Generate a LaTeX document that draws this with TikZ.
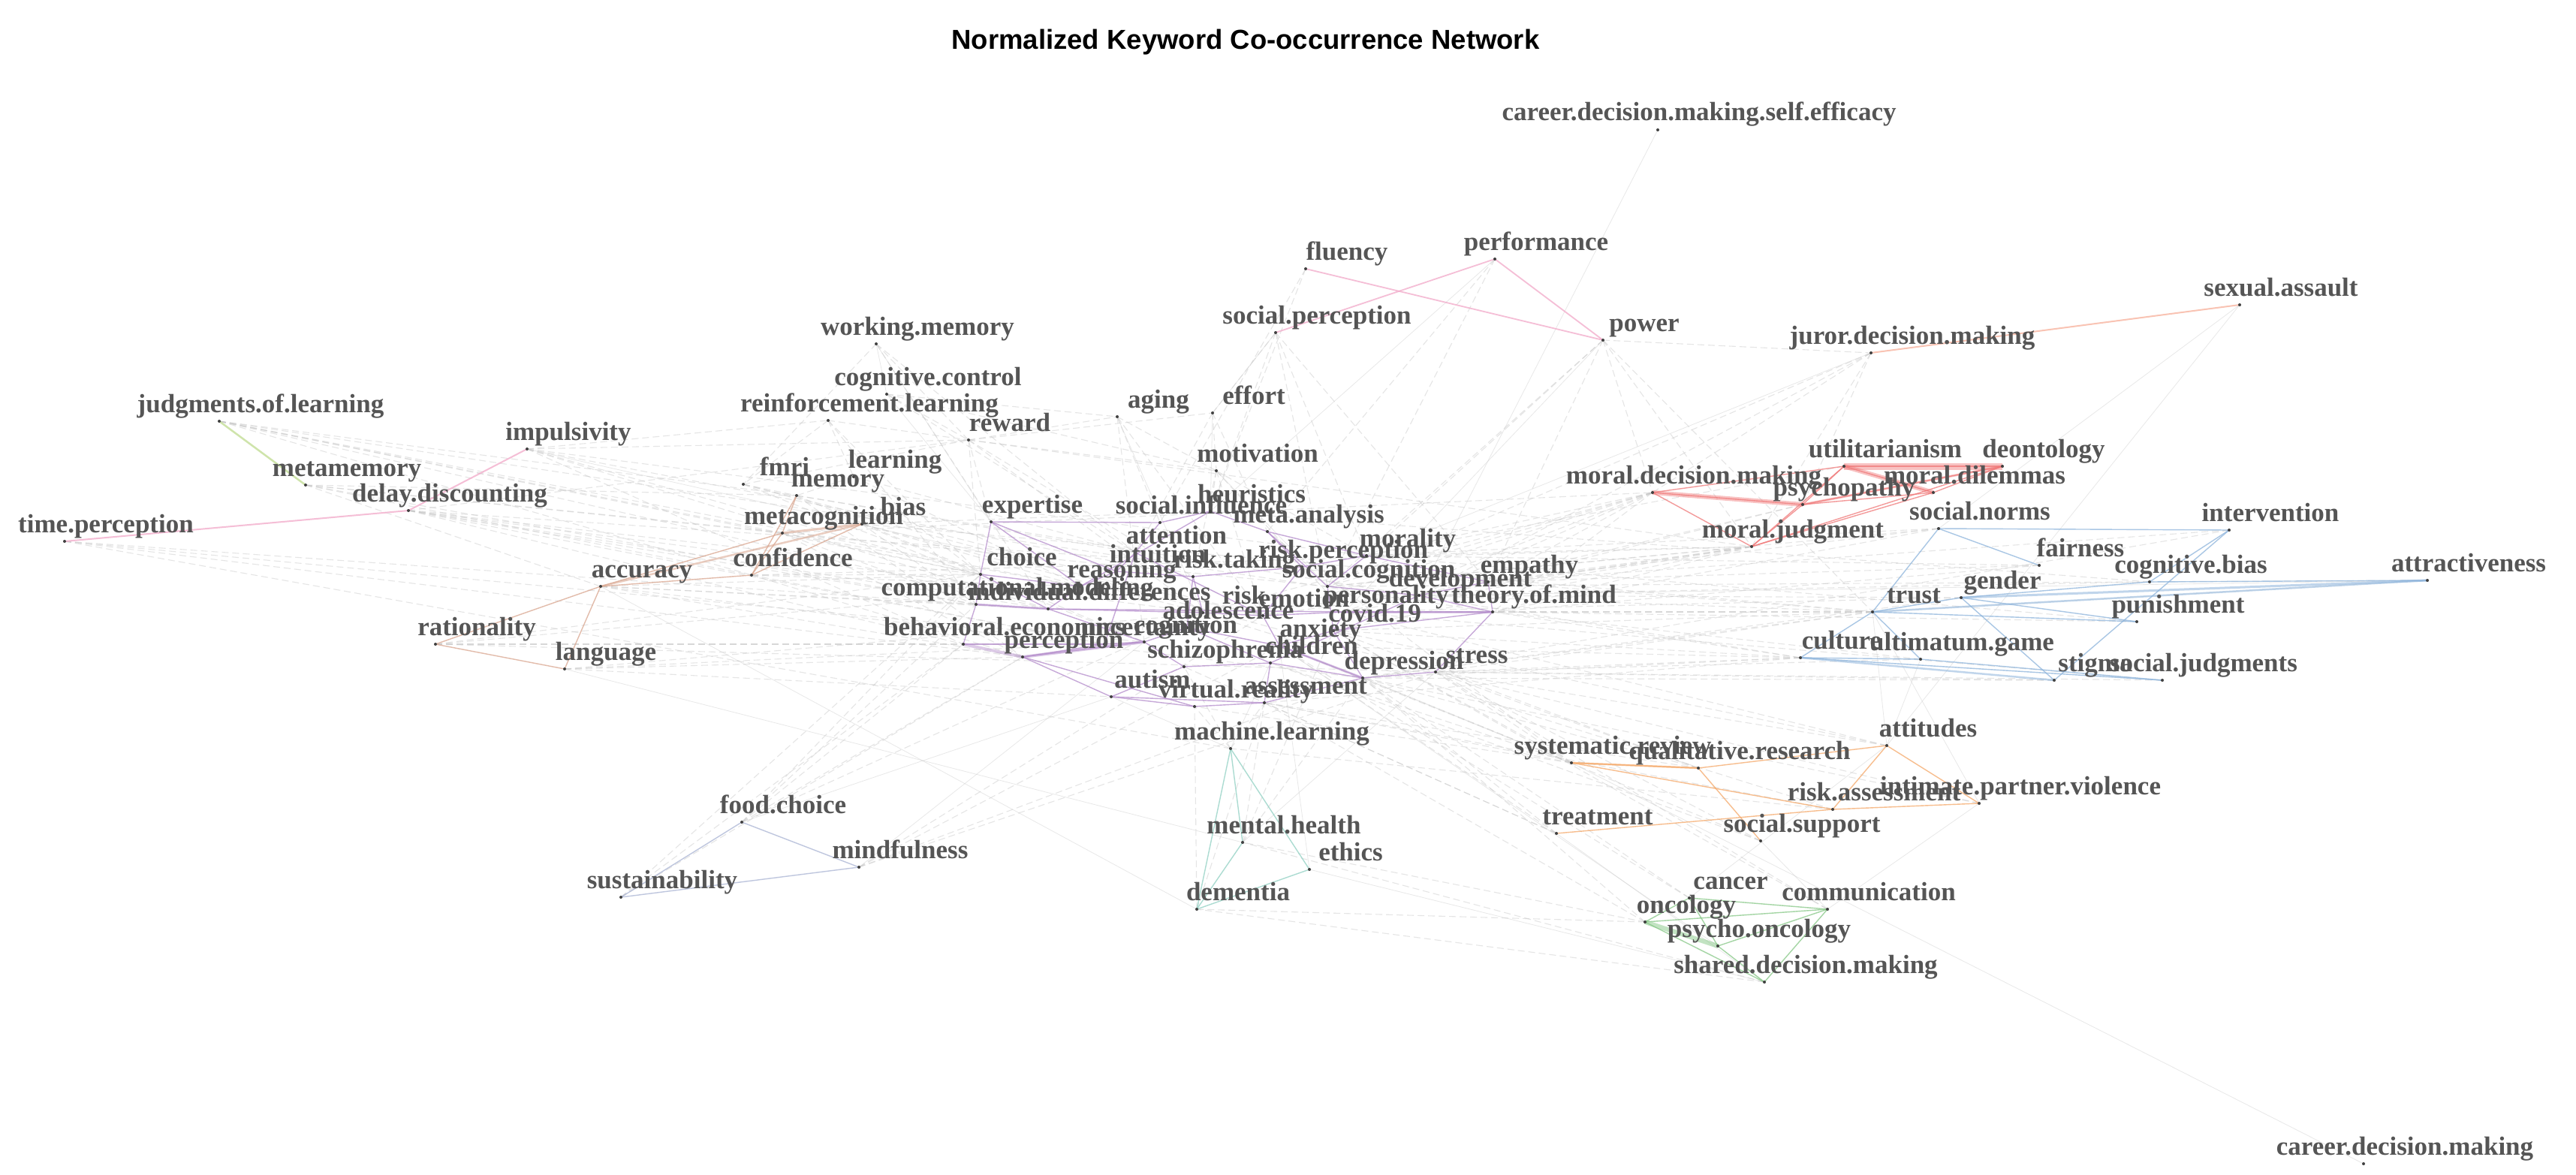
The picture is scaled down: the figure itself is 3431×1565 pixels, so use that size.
\documentclass[tikz,border=0pt]{standalone}
\usepackage{fontspec}
\setmainfont{Liberation Serif}
\newfontfamily\titlefont{Liberation Sans}
\definecolor{labgray}{HTML}{555555}
\definecolor{cpurple}{HTML}{B48CCB}
\definecolor{cred}{HTML}{F07878}
\definecolor{cblue}{HTML}{8DB4DC}
\definecolor{corange}{HTML}{F5A868}
\definecolor{cgreen}{HTML}{86C886}
\definecolor{ctan}{HTML}{D9A58E}
\definecolor{cpink}{HTML}{F2A9C9}
\definecolor{clgreen}{HTML}{BFDC8F}
\definecolor{cteal}{HTML}{8FD0C2}
\definecolor{cslate}{HTML}{A9B3D3}
\definecolor{csalmon}{HTML}{F7B09A}
\tikzset{
  gd/.style={draw=gray!45, opacity=0.45, line width=1.1pt, dash pattern=on 9pt off 5pt},
  gs/.style={draw=gray!40, opacity=0.45, line width=0.8pt},
  ce/.style={draw=#1, opacity=0.75, line width=1.4pt},
  lab/.style={text=labgray, font=\fontsize{35}{40}\selectfont\bfseries, anchor=base, inner sep=0pt},
  dotmark/.style={fill=black!75, circle, inner sep=0pt, minimum size=4pt}
}
\def\kwlist{cdmse/2263/150/career.decision.making.self.efficacy,
flu/1794/335/fluency, perf/2046/322/performance, sexa/3038/383/sexual.assault,
power/2190/430/power, juror/2547/447/juror.decision.making, socper/1754/420/social.perception,
wm/1222/435/working.memory, cogctl/1236/502/cognitive.control, jol/347/538/judgments.of.learning,
rl/1158/537/reinforcement.learning, aging/1543/532/aging, effort/1670/527/effort,
reward/1345/563/reward, impul/757/575/impulsivity, motiv/1675/604/motivation,
learn/1192/612/learning, metam/462/623/metamemory, fmri/1045/622/fmri, memory/1116/637/memory,
delay/599/657/delay.discounting, bias/1203/675/bias, metacog/1097/687/metacognition,
expert/1375/672/expertise, socinf/1600/673/social.influence, heur/1667/658/heuristics,
meta/1743/685/meta.analysis, timep/141/698/time.perception, mdm/2256/633/moral.decision.making,
util/2511/598/utilitarianism, deont/2722/598/deontology, mdil/2630/633/moral.dilemmas,
psyp/2456/649/psychopathy, mj/2388/705/moral.judgment, socnorm/2637/681/social.norms,
interv/3024/683/intervention, fair/2771/730/fairness, cogbias/2918/752/cognitive.bias,
attract/3288/750/attractiveness, gender/2667/773/gender, trust/2549/792/trust,
punish/2901/805/punishment, culture/2453/853/culture, ultim/2613/855/ultimatum.game,
stigma/2791/883/stigma, socjud/2935/883/social.judgments, acc/855/758/accuracy,
conf/1056/743/confidence, ration/635/835/rationality, lang/807/868/language,
attn/1567/713/attention, choice/1361/742/choice, intu/1542/738/intuition,
risktak/1644/745/risk.taking, riskper/1789/732/risk.perception, reason/1494/758/reasoning,
soccog/1823/758/social.cognition, dev/1945/770/development, empathy/2037/752/empathy,
morality/1875/717/morality, compmod/1355/782/computational.modeling,
inddiff/1451/788/individual.differences, risk/1657/793/risk, emotion/1737/797/emotion,
person/1846/792/personality, tom/2043/792/theory.of.mind, covid/1831/817/covid.19,
adol/1636/813/adolescence, behecon/1338/835/behavioral.economics, uncert/1526/835/uncertainty,
cognition/1579/832/cognition, percept/1417/852/perception, anxiety/1759/837/anxiety,
schizo/1632/865/schizophrenia, children/1747/860/children, depress/1870/880/depression,
stress/1967/872/stress, autism/1535/905/autism, vr/1646/918/virtual.reality,
assess/1739/913/assessment, ml/1694/974/machine.learning, menth/1710/1099/mental.health,
ethics/1799/1135/ethics, food/1043/1072/food.choice, mindf/1199/1132/mindfulness,
sustain/882/1172/sustainability, dementia/1649/1188/dementia, attit/2568/970/attitudes,
sysrev/2148/993/systematic.review, qualres/2317/1000/qualitative.research,
ipv/2691/1047/intimate.partner.violence, riskass/2496/1055/risk.assessment,
treat/2128/1087/treatment, socsup/2400/1097/social.support, cancer/2305/1173/cancer,
comm/2489/1188/communication, onco/2246/1205/oncology, psyonc/2343/1237/psycho.oncology,
sdm/2405/1285/shared.decision.making, cdm/3203/1527/career.decision.making}
\begin{document}
\begin{tikzpicture}[x=1pt,y=-1pt]
\fill[white] (0,0) rectangle (3431,1565);
\useasboundingbox (0,0) rectangle (3431,1565);
\foreach \n/\x/\y/\t in \kwlist { \coordinate (\n) at (\x-55,\y+23); }
% grey dashed inter-community edges
\foreach \a/\b in {jol/metacog, jol/memory, jol/conf, jol/reason, jol/inddiff, jol/choice,
metam/metacog, metam/conf, metam/memory, metam/acc, metam/compmod,
impul/reward, impul/rl, impul/choice, impul/inddiff, impul/risktak, impul/behecon,
delay/choice, delay/reward, delay/behecon, delay/inddiff, delay/uncert, delay/risk, delay/compmod,
timep/percept, timep/cognition, timep/compmod, timep/ml,
acc/percept, acc/compmod, acc/choice, acc/inddiff,
conf/choice, conf/percept, conf/reason, conf/uncert,
ration/behecon, ration/reason, ration/choice, ration/uncert,
lang/cognition, lang/autism, lang/percept, lang/dev,
wm/reward, wm/attn, wm/inddiff, wm/fmri,
cogctl/reward, cogctl/aging, cogctl/motiv, cogctl/attn,
rl/reward, rl/compmod, rl/fmri, rl/choice, rl/learn,
reward/aging, reward/motiv, reward/effort, reward/choice, reward/risk, reward/expert, reward/risktak,
aging/motiv, aging/emotion, aging/cognition, aging/socinf,
effort/motiv, effort/attn, effort/socper, effort/meta,
motiv/emotion, motiv/person, motiv/morality, motiv/risktak, motiv/heur,
learn/memory, learn/attn, learn/choice, learn/reason,
fmri/memory, fmri/emotion, fmri/cognition, fmri/reward,
memory/cognition, memory/percept, memory/attn,
bias/heur, bias/reason, bias/choice, bias/risk, bias/compmod,
metacog/reason, metacog/percept, metacog/choice, metacog/compmod,
socper/heur, socper/soccog, socper/empathy, socper/morality,
power/mdm, power/mj, power/soccog, power/juror, power/trust, power/morality, power/empathy,
juror/mdm, juror/mj, juror/soccog, juror/dev, juror/psyp,
mdm/morality, mdm/empathy, mdm/soccog, mdm/tom, mdm/dev, mdm/risk, mdm/emotion, mdm/person,
mj/morality, mj/empathy, mj/tom, mj/person, mj/soccog, mj/covid, mj/dev, mj/emotion,
util/morality, psyp/empathy, psyp/person,
socnorm/morality, socnorm/empathy, socnorm/tom, socnorm/soccog,
trust/tom, trust/empathy, trust/dev, trust/person, trust/covid, trust/stress, trust/depress,
gender/dev, gender/person, gender/depress,
culture/stress, culture/depress, culture/covid, culture/tom, culture/assess, culture/anxiety,
ultim/stress, ultim/tom, fair/tom, fair/empathy, fair/morality,
cogbias/dev, cogbias/heur, punish/morality, punish/tom,
stigma/depress, stigma/stress, socjud/person, socjud/stress,
interv/empathy, interv/depress, attract/soccog,
sysrev/depress, sysrev/stress, sysrev/anxiety, sysrev/assess, sysrev/children, sysrev/covid, sysrev/meta, sysrev/vr,
qualres/stress, qualres/depress, qualres/covid, qualres/assess,
attit/stress, attit/covid, attit/person,
riskass/assess, riskass/ml, riskass/risk, ipv/stress, ipv/depress,
treat/depress, treat/anxiety, treat/assess, treat/schizo,
socsup/stress, socsup/depress, socsup/children,
cancer/anxiety, cancer/depress, comm/covid, comm/stress,
onco/menth, onco/depress, onco/assess, onco/dementia,
sdm/menth, sdm/dementia, ml/assess, ml/vr, ml/schizo,
menth/assess, menth/covid, menth/depress, dementia/vr, dementia/assess,
food/choice, food/behecon, food/percept, food/compmod, food/risk,
mindf/stress, mindf/depress, mindf/emotion, mindf/anxiety,
sustain/percept, sustain/behecon, sustain/choice,
flu/socinf, flu/heur, perf/meta, perf/soccog,
jol/tom, metam/dev, delay/empathy, impul/morality, acc/depress, ration/stress,
conf/mj, metacog/mdm, bias/trust, memory/culture, fmri/stress, reward/mj}
  { \draw[gd] (\a) -- (\b); }
% grey thin solid edges
\foreach \a/\b in {cdm/sysrev, cdmse/dev, sexa/socnorm, sexa/attit, attract/dev, attract/trust,
psyonc/anxiety, ethics/anxiety, sdm/ethics, ml/autism, ml/children, menth/stress, food/autism,
mindf/cognition, impul/emotion, wm/cogctl, power/person, juror/morality, comm/ipv, cancer/attit,
treat/sdm, socsup/comm, lang/menth, acc/dementia, socper/effort, perf/heur, cogctl/expert,
wm/expert, aging/risk, effort/heur, motiv/soccog, ipv/trust, attit/trust, ultim/attit}
  { \draw[gs] (\a) -- (\b); }
% purple community
\foreach \a/\b in {expert/choice, expert/socinf, expert/intu, expert/reason, choice/compmod,
choice/inddiff, choice/reason, compmod/inddiff, compmod/behecon, behecon/uncert,
percept/uncert, percept/autism, percept/cognition, inddiff/reason, inddiff/cognition, inddiff/risk,
reason/intu, intu/attn, attn/socinf, socinf/heur, heur/meta, meta/riskper, riskper/risktak,
risktak/intu, risktak/risk, risktak/adol, risk/emotion, emotion/person, person/tom, tom/dev,
dev/soccog, soccog/morality, morality/empathy, empathy/tom, empathy/dev, emotion/anxiety,
anxiety/depress, depress/stress, depress/children, children/schizo, schizo/autism, autism/vr,
vr/assess, assess/depress, assess/children, covid/anxiety, covid/depress, covid/person, tom/covid,
adol/cognition, adol/children, cognition/schizo, cognition/uncert, uncert/attn, percept/vr,
soccog/covid, meta/soccog, riskper/emotion, heur/reason, attn/emotion, inddiff/person,
dev/children, autism/assess, riskper/morality, meta/morality, tom/stress, adol/anxiety}
  { \draw[ce=cpurple] (\a) -- (\b); }
\draw[ce=cpurple, line width=4pt, opacity=0.45] (behecon) -- (percept);
\draw[ce=cpurple, line width=4pt, opacity=0.45] (percept) -- (cognition);
\draw[ce=cpurple, line width=3pt, opacity=0.45] (compmod) -- (inddiff);
\draw[ce=cpurple, line width=3pt, opacity=0.45] (person) -- (tom);
\draw[ce=cpurple, line width=3pt, opacity=0.45] (anxiety) -- (depress);
% red community
\foreach \a/\b in {util/deont, util/mdil, deont/mdil, mdm/psyp, mdm/util, mdm/mj, psyp/mj,
psyp/util, psyp/deont, mj/deont, mj/mdil, mdil/psyp, mj/util}
  { \draw[ce=cred] (\a) -- (\b); }
\draw[ce=cred, line width=9pt, opacity=0.45] (util) -- (deont);
\draw[ce=cred, line width=6pt, opacity=0.45] (util) -- (mdil);
\draw[ce=cred, line width=6pt, opacity=0.45] (mdm) -- (psyp);
\draw[ce=cred, line width=3pt, opacity=0.45] (psyp) -- (deont);
\foreach \a/\b in {perf/power, perf/socper, flu/power}
  { \draw[ce=cpink, line width=1.8pt] (\a) -- (\b); }
\draw[ce=csalmon, line width=2pt] (juror) -- (sexa);
% blue community
\foreach \a/\b in {socnorm/fair, socnorm/trust, socnorm/interv, trust/gender, interv/cogbias,
interv/stigma, culture/socjud, culture/ultim, ultim/socjud, trust/ultim, gender/stigma,
trust/punish, gender/punish, cogbias/attract, culture/trust, gender/cogbias}
  { \draw[ce=cblue] (\a) -- (\b); }
\draw[ce=cblue, line width=3pt, opacity=0.55] (gender) -- (attract);
\draw[ce=cblue, line width=2.5pt, opacity=0.55] (culture) -- (stigma);
\draw[ce=cblue, line width=2.5pt, opacity=0.55] (trust) -- (attract);
% tan community
\foreach \a/\b in {acc/conf, acc/metacog, acc/ration, acc/lang, ration/lang, conf/metacog,
conf/bias, metacog/memory, conf/memory}
  { \draw[ce=ctan] (\a) -- (\b); }
\draw[ce=ctan, line width=3pt, opacity=0.55] (metacog) -- (bias);
\draw[ce=ctan, line width=2.5pt, opacity=0.55] (acc) -- (bias);
% pink and light green
\draw[ce=cpink, line width=2pt] (impul) -- (delay);
\draw[ce=cpink, line width=2pt] (delay) -- (timep);
\draw[ce=clgreen, line width=2.5pt] (jol) -- (metam);
% orange community
\foreach \a/\b in {sysrev/qualres, qualres/attit, sysrev/riskass, qualres/socsup,
treat/riskass, riskass/ipv, attit/ipv, attit/riskass}
  { \draw[ce=corange] (\a) -- (\b); }
\draw[ce=corange, line width=2.5pt, opacity=0.6] (sysrev) -- (qualres);
% green community
\foreach \a/\b in {onco/comm, onco/sdm, psyonc/sdm, comm/sdm, cancer/psyonc, cancer/comm,
onco/cancer, psyonc/comm}
  { \draw[ce=cgreen] (\a) -- (\b); }
\draw[ce=cgreen, line width=6pt, opacity=0.5] (onco) -- (psyonc);
% teal community
\foreach \a/\b in {ml/ethics, menth/dementia, ethics/dementia, ml/dementia, ml/menth}
  { \draw[ce=cteal] (\a) -- (\b); }
% slate community
\foreach \a/\b in {food/mindf, mindf/sustain, food/sustain}
  { \draw[ce=cslate] (\a) -- (\b); }
% vertices and labels
\foreach \n/\x/\y/\t in \kwlist {
  \node[dotmark] (\n-v) at (\n) {};
  \node[lab] (\n-l) at (\x,\y+11) {\t};
}
\node[font={\titlefont\bfseries\fontsize{36.5}{40}\selectfont}, anchor=base, inner sep=0pt] (title) at (1659,66) {Normalized Keyword Co-occurrence Network};
\end{tikzpicture}
\end{document}
